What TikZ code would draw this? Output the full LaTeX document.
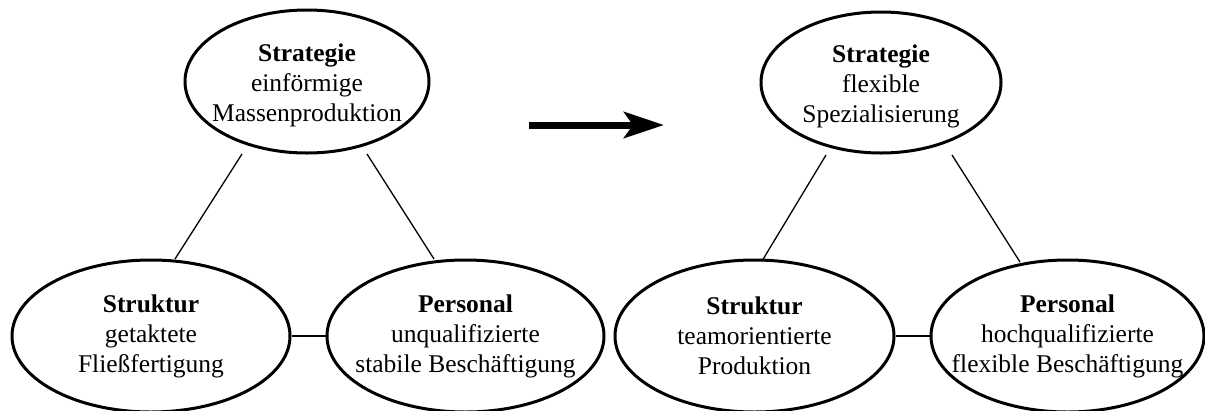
\documentclass[tikz,border=0pt]{standalone}
\usepackage{fontspec}
\setmainfont{Liberation Serif}
\usetikzlibrary{shapes.geometric,arrows.meta}
\begin{document}
\begin{tikzpicture}[x=1pt,y=-1pt,
  oval/.style={ellipse,draw,line width=3pt,inner sep=0pt},
  ovaltext/.style={inner sep=0pt,align=center,
    font=\fontsize{25.5}{30}\selectfont},
  link/.style={line width=1.3pt},
  bigarrow/.style={line width=7pt,-{Stealth[length=40pt,width=26pt,inset=9pt]}}]
\useasboundingbox (0,0) rectangle (1205,410);
% left group
\node[oval,minimum width=244pt,minimum height=143pt] (s1) at (307,81.5) {};
\node[oval,minimum width=278pt,minimum height=152pt] (k1) at (151,336) {};
\node[oval,minimum width=277pt,minimum height=152pt] (p1) at (465.5,336) {};
\node[ovaltext,yshift=-3.5pt] (s1t) at (s1.center) {\textbf{Strategie}\\einförmige\\Massenproduktion};
\node[ovaltext] (k1t) at (k1.center) {\textbf{Struktur}\\getaktete\\Fließfertigung};
\node[ovaltext] (p1t) at (p1.center) {\textbf{Personal}\\unqualifizierte\\stabile Beschäftigung};
% right group
\node[oval,minimum width=240pt,minimum height=141pt] (s2) at (881,82.5) {};
\node[oval,minimum width=279pt,minimum height=152pt] (k2) at (754.5,336) {};
\node[oval,minimum width=273pt,minimum height=152pt] (p2) at (1067.5,336) {};
\node[ovaltext,yshift=-3.5pt] (s2t) at (s2.center) {\textbf{Strategie}\\flexible\\Spezialisierung};
\node[ovaltext] (k2t) at (k2.center) {\textbf{Struktur}\\teamorientierte\\Produktion};
\node[ovaltext] (p2t) at (p2.center) {\textbf{Personal}\\hochqualifizierte\\flexible Beschäftigung};
% free ends of the diagonal connectors
\coordinate (a1) at (242,154);
\coordinate (b1) at (175,259);
\coordinate (a2) at (367,154);
\coordinate (b2) at (434,259);
\coordinate (a3) at (826,155);
\coordinate (b3) at (762,261);
\coordinate (a4) at (952,155);
\coordinate (b4) at (1020,262);
\draw[link] (a1) -- (b1);
\draw[link] (a2) -- (b2);
\draw[link] (a3) -- (b3);
\draw[link] (a4) -- (b4);
\draw[link] (k1.east) -- (p1.west);
\draw[link] (k2.east) -- (p2.west);
% transition arrow
\coordinate (ar0) at (529,125);
\coordinate (ar1) at (664,125);
\draw[bigarrow] (ar0) -- (ar1);
\end{tikzpicture}
\end{document}
